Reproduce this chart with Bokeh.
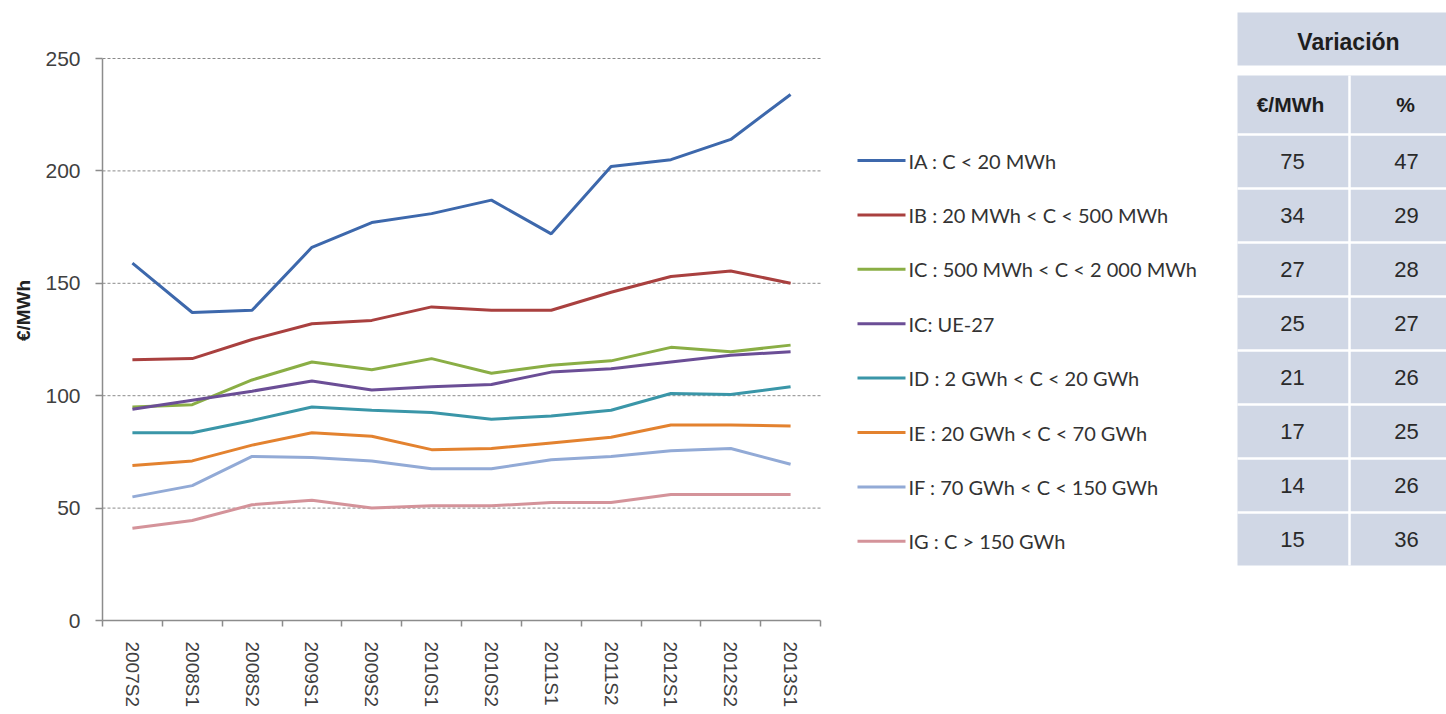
from bokeh.plotting import figure
from bokeh.models import Range1d, FixedTicker, ColumnDataSource
from bokeh.core.properties import value
from bokeh.embed import file_html
from bokeh.resources import INLINE

# ---------------- data ----------------
categories = ["2007S2", "2008S1", "2008S2", "2009S1", "2009S2", "2010S1",
              "2010S2", "2011S1", "2011S2", "2012S1", "2012S2", "2013S1"]

series_names = ["IA : C < 20 MWh",
                "IB : 20 MWh < C < 500 MWh",
                "IC : 500 MWh < C < 2 000 MWh",
                "IC: UE-27",
                "ID : 2 GWh < C < 20 GWh",
                "IE : 20 GWh < C < 70 GWh",
                "IF : 70 GWh < C < 150 GWh",
                "IG : C > 150 GWh"]

ia = [159, 137, 138, 166, 177, 181, 187, 172, 202, 205, 214, 234]
ib = [116, 116.5, 125, 132, 133.5, 139.5, 138, 138, 146, 153, 155.5, 150]
ic = [95, 96, 107, 115, 111.5, 116.5, 110, 113.5, 115.5, 121.5, 119.5, 122.5]
ue27 = [94, 98, 102, 106.5, 102.5, 104, 105, 110.5, 112, 115, 118, 119.5]
id_ = [83.5, 83.5, 89, 95, 93.5, 92.5, 89.5, 91, 93.5, 101, 100.5, 104]
ie = [69, 71, 78, 83.5, 82, 76, 76.5, 79, 81.5, 87, 87, 86.5]
if_ = [55, 60, 73, 72.5, 71, 67.5, 67.5, 71.5, 73, 75.5, 76.5, 69.5]
ig = [41, 44.5, 51.5, 53.5, 50, 51, 51, 52.5, 52.5, 56, 56, 56]

y_ticks = [0, 50, 100, 150, 200, 250]

table_title = "Variación"
table_cols = ["€/MWh", "%"]
var_eur = [75, 34, 27, 25, 21, 17, 14, 15]
var_pct = [47, 29, 28, 27, 26, 25, 26, 36]

# ---------------- styles / layout ----------------
colors = ["#3D68AC", "#A9403F", "#8AAE45", "#6B4E96",
          "#3A96A8", "#E3822F", "#92AAD6", "#D4939A"]
all_series = [ia, ib, ic, ue27, id_, ie, if_, ig]
AX = "#8c8c8c"
TXT = "#404040"
FONT = "Liberation Sans"

W, H = 1446, 714
LEFT, TOP, BOTTOM = 102, 0, 94          # borders around the frame
CHART_RIGHT, CHART_TOP = 820, 58        # pixel extent of the chart area
frame_w = W - LEFT
frame_h = H - TOP - BOTTOM
n = len(categories)
y_max = 250
x_end = n * frame_w / (CHART_RIGHT - LEFT)
y_end = y_max * frame_h / (frame_h - (CHART_TOP - TOP))

p = figure(width=W, height=H, output_backend="svg", toolbar_location=None,
           x_range=Range1d(0, x_end), y_range=Range1d(0, y_end),
           min_border_left=LEFT, min_border_right=0, min_border_top=TOP,
           min_border_bottom=BOTTOM)
p.outline_line_color = None
p.background_fill_color = "white"
p.border_fill_color = "white"
p.grid.visible = False

# pixel-like extra ranges for legend and table
p.extra_x_ranges = {"px": Range1d(LEFT, W)}
p.extra_y_ranges = {"py": Range1d(H - BOTTOM, TOP)}

# horizontal dotted gridlines, limited to chart area
gy = y_ticks[1:]
p.segment(x0=[0] * len(gy), x1=[n] * len(gy), y0=gy, y1=gy,
          line_color="#8a8a8a", line_dash="3 2", line_width=1)

xs = [i + 0.5 for i in range(n)]
for vals, col in zip(all_series, colors):
    p.line(x=xs, y=vals, line_color=col, line_width=3)

# x axis
p.xaxis.bounds = (0, n)
p.xaxis.ticker = FixedTicker(ticks=xs, minor_ticks=list(range(n + 1)))
p.xaxis.major_label_overrides = {x: c for x, c in zip(xs, categories)}
p.xaxis.major_label_orientation = "vertical"
p.xaxis.major_tick_line_color = None
p.xaxis.major_tick_out = 0
p.xaxis.major_tick_in = 0
p.xaxis.minor_tick_line_color = AX
p.xaxis.minor_tick_line_width = 1.5
p.xaxis.minor_tick_out = 6
p.xaxis.minor_tick_in = 0
p.xaxis.major_label_standoff = 15
p.xaxis.major_label_text_font = FONT
p.xaxis.major_label_text_font_size = "19px"
p.xaxis.major_label_text_color = TXT
p.xaxis.axis_line_color = AX
p.xaxis.axis_line_width = 1.5

# y axis
p.yaxis.bounds = (0, y_max)
p.yaxis.ticker = FixedTicker(ticks=y_ticks)
p.yaxis.minor_tick_line_color = None
p.yaxis.major_tick_line_color = AX
p.yaxis.major_tick_line_width = 1.5
p.yaxis.major_tick_out = 7
p.yaxis.major_tick_in = 0
p.yaxis.major_label_standoff = 15
p.yaxis.major_label_text_font = FONT
p.yaxis.major_label_text_font_size = "21px"
p.yaxis.major_label_text_color = TXT
p.yaxis.axis_label = "€/MWh"
p.yaxis.axis_label_text_font = FONT
p.yaxis.axis_label_text_font_style = "bold"
p.yaxis.axis_label_text_font_size = "19px"
p.yaxis.axis_label_text_color = "#222222"
p.yaxis.axis_label_standoff = 8
p.yaxis.axis_line_color = AX
p.yaxis.axis_line_width = 1.5

PX = dict(x_range_name="px", y_range_name="py")
m = len(series_names)

# legend
leg_y = [160 + 54.4 * i for i in range(m)]
p.segment(x0=[857] * m, x1=[905] * m, y0=leg_y, y1=leg_y,
          line_color=colors, line_width=3, **PX)
p.text(x=[908] * m, y=leg_y, text=series_names,
       text_font=value("Lato"), text_font_size="20px", text_color="#333333",
       text_align="left", text_baseline="middle", **PX)

# table
FILL = "#D0D7E5"
tx0, tmid, tx1 = 1237, 1349, 1446
row_top0, row_h = 135, 54
row_centers = [row_top0 + row_h * i + (row_h - 2) / 2 for i in range(m)]
table_bottom = row_top0 + row_h * m - 2
p.quad(left=[tx0], right=[tx1], top=[12], bottom=[65], fill_color=FILL,
       line_color=None, **PX)
p.quad(left=[tx0], right=[tx1], top=[75], bottom=[table_bottom],
       fill_color=FILL, line_color=None, **PX)
seps = [row_top0 - 1 + row_h * i for i in range(m)]
p.segment(x0=[tx0] * m, x1=[tx1] * m, y0=seps, y1=seps,
          line_color="white", line_width=2.5, **PX)
p.segment(x0=[tmid], x1=[tmid], y0=[75], y1=[table_bottom],
          line_color="white", line_width=2.5, **PX)

p.text(x=[1348], y=[41], text=[table_title], text_font=value(FONT),
       text_font_style="bold", text_font_size="23px", text_color="#1e1e1e",
       text_align="center", text_baseline="middle", **PX)
p.text(x=[1290, 1405], y=[104, 104], text=table_cols, text_font=value(FONT),
       text_font_style="bold", text_font_size="21px", text_color="#1e1e1e",
       text_align="center", text_baseline="middle", **PX)
src = ColumnDataSource(dict(y=row_centers, a=[str(v) for v in var_eur],
                            b=[str(v) for v in var_pct]))
p.text(x=1292, y="y", text="a", source=src, text_font=value(FONT),
       text_font_size="22px", text_color="#2a2a2a", text_align="center",
       text_baseline="middle", **PX)
p.text(x=1406, y="y", text="b", source=src, text_font=value(FONT),
       text_font_size="22px", text_color="#2a2a2a", text_align="center",
       text_baseline="middle", **PX)

open("out.html", "w").write(file_html(p, INLINE))
